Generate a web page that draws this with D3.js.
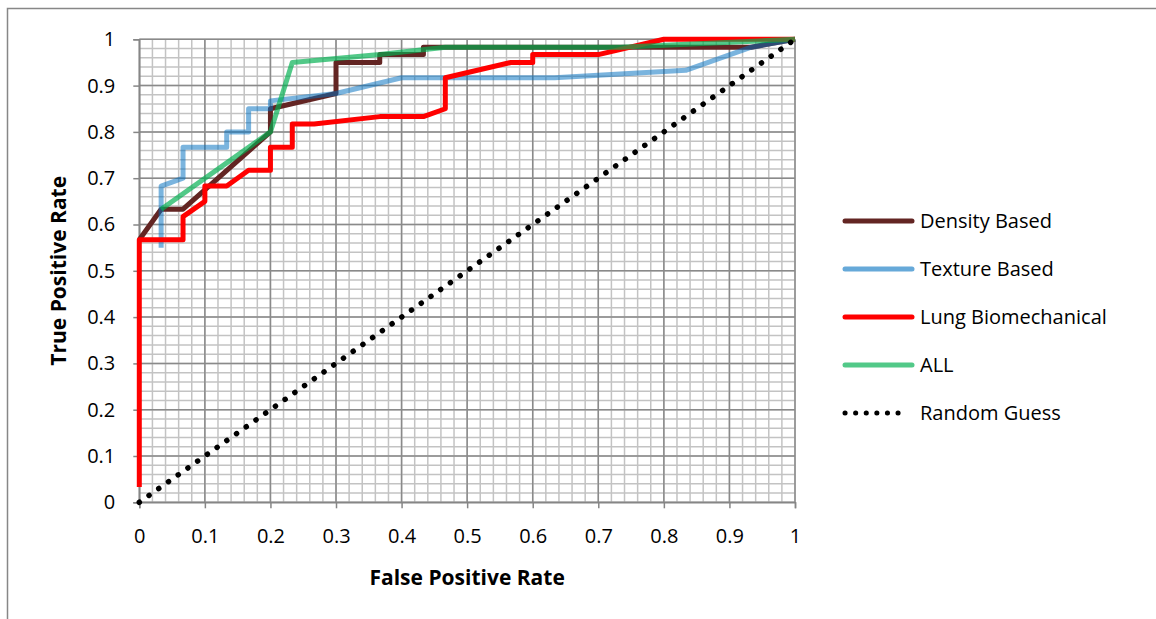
<!DOCTYPE html>
<html>
<head>
<meta charset="utf-8">
<script src="https://cdn.jsdelivr.net/npm/d3@7"></script>
<style>
  body { margin: 0; background: #fff; }
  text { font-family: "Open Sans", "Noto Sans", sans-serif; fill: #000; }
</style>
</head>
<body>
<div id="chart"></div>
<script>
// ROC curve data
var densityFpr = [0, 0.0333, 0.0667, 0.2, 0.2, 0.3, 0.3, 0.3667, 0.3667, 0.4333, 0.4333, 0.9333, 1];
var densityTpr = [0.567, 0.633, 0.633, 0.8, 0.85, 0.883, 0.95, 0.95, 0.967, 0.967, 0.983, 0.983, 1];

var textureFpr = [0.0333, 0.0333, 0.0667, 0.0667, 0.1333, 0.1333, 0.1667, 0.1667, 0.2, 0.2, 0.3, 0.4, 0.6333, 0.8333, 0.9333, 1];
var textureTpr = [0.55, 0.683, 0.7, 0.767, 0.767, 0.8, 0.8, 0.85, 0.85, 0.867, 0.883, 0.917, 0.917, 0.933, 0.983, 1];

var lungFpr = [0, 0, 0.0667, 0.0667, 0.1, 0.1, 0.1333, 0.1667, 0.2, 0.2, 0.2333, 0.2333, 0.2667, 0.3667, 0.4333, 0.4667, 0.4667, 0.5667, 0.6, 0.6, 0.7, 0.8, 1];
var lungTpr = [0.033, 0.567, 0.567, 0.617, 0.65, 0.683, 0.683, 0.717, 0.717, 0.767, 0.767, 0.817, 0.817, 0.833, 0.833, 0.85, 0.917, 0.95, 0.95, 0.967, 0.967, 1, 1];

var allFpr = [0.0333, 0.2, 0.2333, 0.3667, 0.4667, 0.7333, 1];
var allTpr = [0.633, 0.8, 0.95, 0.967, 0.983, 0.983, 1];

var randomFpr = [0, 1];
var randomTpr = [0, 1];

var seriesNames = ["Density Based", "Texture Based", "Lung Biomechanical", "ALL", "Random Guess"];
var tickValues = [0, 0.1, 0.2, 0.3, 0.4, 0.5, 0.6, 0.7, 0.8, 0.9, 1];

var svgWidth = 1156;
var svgHeight = 619;

var svg = d3.select("#chart")
    .append("svg")
    .attr("width", svgWidth)
    .attr("height", svgHeight);

// chart frame
svg.append("rect")
    .attr("x", 7.5)
    .attr("y", 8.5)
    .attr("width", 1300)
    .attr("height", 800)
    .attr("fill", "none")
    .attr("stroke", "#878787")
    .attr("stroke-width", 1.5);

var x = d3.scaleLinear().domain([0, 1]).range([139.3, 795]);
var y = d3.scaleLinear().domain([0, 1]).range([502.3, 39.3]);

// minor grid every 0.02
var minor = d3.range(0, 1.0001, 0.02);
var grid = svg.append("g");
grid.selectAll(".vminor")
    .data(minor)
    .enter()
    .append("line")
    .attr("x1", d => x(d)).attr("x2", d => x(d))
    .attr("y1", y(0)).attr("y2", y(1))
    .attr("stroke", "#c3c3c3")
    .attr("stroke-width", 1.5);
grid.selectAll(".hminor")
    .data(minor)
    .enter()
    .append("line")
    .attr("y1", d => y(d)).attr("y2", d => y(d))
    .attr("x1", x(0)).attr("x2", x(1))
    .attr("stroke", "#c3c3c3")
    .attr("stroke-width", 1.5);

// major grid
grid.selectAll(".vmajor")
    .data(tickValues)
    .enter()
    .append("line")
    .attr("x1", d => x(d)).attr("x2", d => x(d))
    .attr("y1", y(0)).attr("y2", y(1))
    .attr("stroke", "#8a8a8a")
    .attr("stroke-width", 1.5);
grid.selectAll(".hmajor")
    .data(tickValues)
    .enter()
    .append("line")
    .attr("y1", d => y(d)).attr("y2", d => y(d))
    .attr("x1", x(0)).attr("x2", x(1))
    .attr("stroke", "#8a8a8a")
    .attr("stroke-width", 1.5);

// axes
var bottomAxis = d3.axisBottom(x).tickValues(tickValues).tickFormat(d3.format("")).tickSize(6).tickPadding(21);
var leftAxis = d3.axisLeft(y).tickValues(tickValues).tickFormat(d3.format("")).tickSize(6).tickPadding(18);

var xAxis = svg.append("g")
    .attr("transform", `translate(0, ${y(0)})`)
    .call(bottomAxis);
var yAxis = svg.append("g")
    .attr("transform", `translate(${x(0)}, 0)`)
    .call(leftAxis);

[xAxis, yAxis].forEach(function (ax) {
    ax.select(".domain").attr("stroke", "#868686").attr("stroke-width", 1.5);
    ax.selectAll(".tick line").attr("stroke", "#868686").attr("stroke-width", 1.5);
    ax.selectAll(".tick text")
        .style("font-family", "'Open Sans', 'Noto Sans', sans-serif")
        .style("font-size", "20px")
        .attr("fill", "#000");
});

// axis titles
svg.append("text")
    .attr("x", (x(0) + x(1)) / 2)
    .attr("y", 585)
    .attr("text-anchor", "middle")
    .style("font-size", "21px")
    .style("font-weight", "bold")
    .text("False Positive Rate");

svg.append("text")
    .attr("transform", `translate(66, ${(y(0) + y(1)) / 2}) rotate(-90)`)
    .attr("text-anchor", "middle")
    .style("font-size", "21px")
    .style("font-weight", "bold")
    .text("True Positive Rate");

// series
var series = [
    { name: seriesNames[0], fpr: densityFpr, tpr: densityTpr, color: "#632523", opacity: 1, dots: false },
    { name: seriesNames[1], fpr: textureFpr, tpr: textureTpr, color: "#0070c0", opacity: 0.52, dots: false },
    { name: seriesNames[2], fpr: lungFpr, tpr: lungTpr, color: "#ff0000", opacity: 1, dots: false },
    { name: seriesNames[3], fpr: allFpr, tpr: allTpr, color: "#00b050", opacity: 0.68, dots: false },
    { name: seriesNames[4], fpr: randomFpr, tpr: randomTpr, color: "#000000", opacity: 1, dots: true }
];

var line = d3.line()
    .x(d => x(d[0]))
    .y(d => y(d[1]));

var linesGroup = svg.append("g");
series.forEach(function (s) {
    var pts = s.fpr.map((f, i) => [f, s.tpr[i]]);
    var path = linesGroup.append("path")
        .datum(pts)
        .attr("d", line)
        .attr("fill", "none")
        .attr("stroke", s.color)
        .attr("stroke-opacity", s.opacity)
        .attr("stroke-linejoin", "round");
    if (s.dots) {
        path.attr("stroke-width", 5.5)
            .attr("stroke-linecap", "round")
            .attr("stroke-dasharray", "0.1, 11.8");
    } else {
        path.attr("stroke-width", 5)
            .attr("stroke-linecap", "butt");
    }
});

// legend
var legend = svg.append("g");
series.forEach(function (s, i) {
    var ly = 221 + i * 48;
    var item = legend.append("line")
        .attr("x1", 845).attr("x2", s.dots ? 906 : 912)
        .attr("y1", ly).attr("y2", ly)
        .attr("stroke", s.color)
        .attr("stroke-opacity", s.dots ? 1 : Math.max(s.opacity, 0.6))
        .attr("stroke-linecap", "round");
    if (s.dots) {
        item.attr("stroke-width", 5).attr("stroke-dasharray", "0.1, 10.5");
    } else {
        item.attr("stroke-width", 5);
    }
    legend.append("text")
        .attr("x", 920)
        .attr("y", ly)
        .attr("dy", "0.35em")
        .style("font-size", "20px")
        .text(s.name);
});
</script>
</body>
</html>
